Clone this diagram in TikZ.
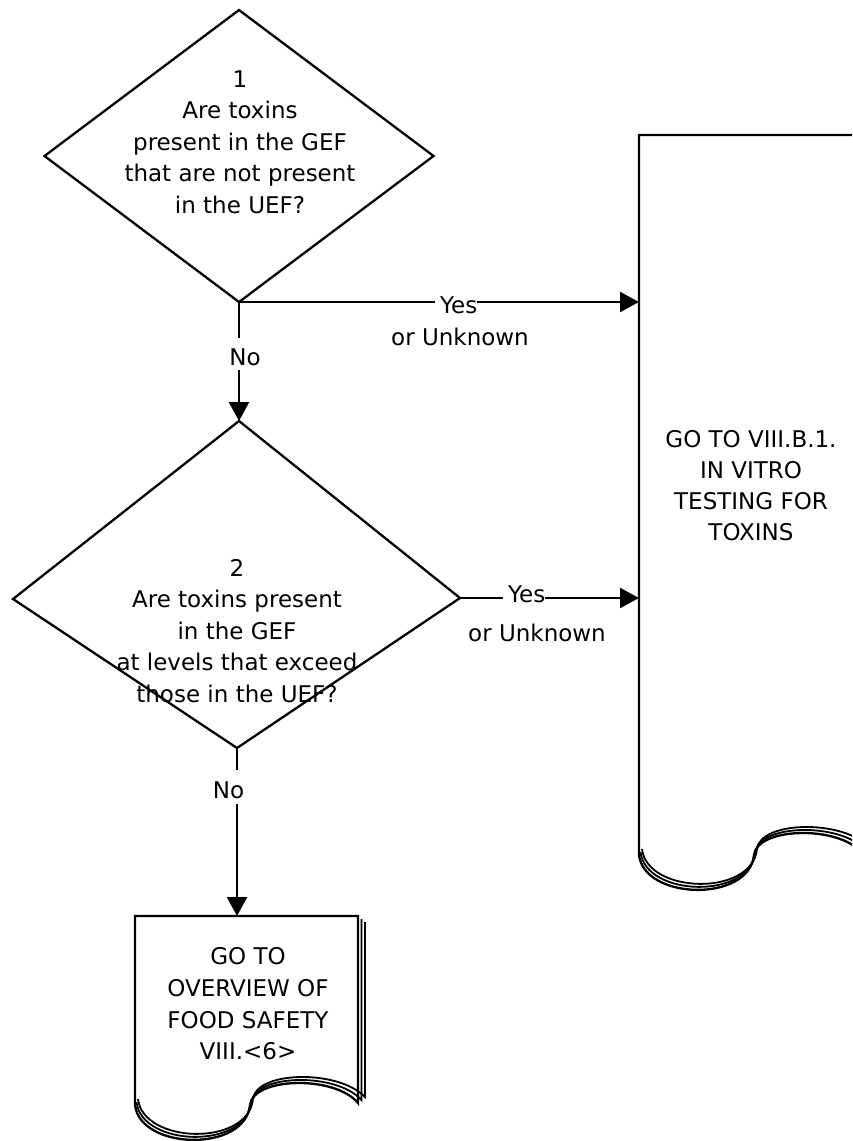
\documentclass[tikz,border=0pt]{standalone}
\usepackage{fontspec}
\setmainfont{DejaVu Sans}
\usetikzlibrary{arrows.meta,shapes.geometric}

\newcommand\docoutline[3]{% #1 = left x, #2 = top y, #3 = bottom y (pixels, y downwards)
  \begin{scope}[shift={(#1,-#3)}]
    \draw[outl] (0,0) -- (0,#3-#2) -- (223,#3-#2) -- (223,2)
      .. controls (200,30) and (118,28) .. (115,0)
      .. controls (110,-48) and (5,-45) .. (0,0) -- cycle;
    \foreach \k in {1,2}{
      \draw[outlback] (223+3.5*\k,#3-#2-3*\k) -- (223+3.5*\k,2+3*\k)
        .. controls (200+1.5*\k,30+3*\k) and (118+1.5*\k,28+3*\k) .. (115+1.5*\k,3*\k)
        .. controls (110+1.5*\k,-48+3*\k) and (5+1.5*\k,-45+3*\k) .. (1.5*\k,3*\k);
    }
  \end{scope}}

\begin{document}
\begin{tikzpicture}[x=1pt,y=1pt,
  outl/.style={draw=black,line width=2.3pt,line join=miter},
  outlback/.style={draw=black,line width=1.8pt},
  conn/.style={draw=black,line width=2.3pt},
  arr/.style={conn,-{Triangle[length=19pt,width=20pt]}},
  txt/.style={align=center,font=\fontsize{23}{31.5}\selectfont,inner sep=0pt},
  lbl/.style={font=\fontsize{23}{25}\selectfont,fill=white,inner sep=0pt}]
\useasboundingbox (0,0) rectangle (852,-1141);
\clip (0,0) rectangle (852,-1141);

% decision 1
\node[diamond,draw,line width=2.3pt,minimum width=389pt,minimum height=292pt,inner sep=0pt,outer sep=0pt] (d1) at (239,-156) {};
\node[txt] (q1) at (240,-142) {1\\Are toxins\\present in the GEF\\that are not present\\in the UEF?};

% decision 2
\coordinate (d2t) at (239,-421);
\coordinate (d2l) at (13,-599);
\coordinate (d2r) at (460,-598);
\coordinate (d2b) at (237,-748);
\draw[outl] (d2t) -- (d2r) -- (d2b) -- (d2l) -- cycle;
\node[txt] (q2) at (237,-631) {2\\Are toxins present\\in the GEF\\at levels that exceed\\those in the UEF?};

% documents
\coordinate (r1w) at (639,-135);
\docoutline{639}{135}{855}
\node[txt,font=\fontsize{23}{31}\selectfont] (g1) at (751,-486) {GO TO VIII.B.1.\\IN VITRO\\TESTING FOR\\TOXINS};

\coordinate (doc2top) at (237,-916);
\docoutline{135}{916}{1105}
\node[txt,font=\fontsize{23}{31.7}\selectfont] (g2) at (248,-1004) {GO TO\\OVERVIEW OF\\FOOD SAFETY\\VIII.<6>};

% connectors
\draw[arr] (d1.south) -- (d1.south -| r1w);
\draw[arr] (d1.south) -- (d2t);
\draw[arr] (d2r) -- (d2r -| r1w);
\draw[arr] (d2b) -- (d2b |- doc2top);

% labels
\node[lbl,anchor=base west] (y1) at (435,-313) {\hspace{5pt}\rule{0pt}{20pt}Yes\hspace{17pt}};
\node[lbl,fill=none,anchor=base] (u1) at (460,-345) {or Unknown};
\node[lbl,anchor=base] (n1) at (245,-365) {\rule[-5pt]{0pt}{32pt}No};
\node[lbl,anchor=base west] (y2) at (503,-602) {\hspace{5pt}\rule{0pt}{20pt}Yes\hspace{19pt}};
\node[lbl,fill=none,anchor=base] (u2) at (537,-641) {or Unknown};
\node[lbl,anchor=base] (n2) at (228.5,-798) {\rule[-6pt]{0pt}{34pt}No};
\end{tikzpicture}
\end{document}
